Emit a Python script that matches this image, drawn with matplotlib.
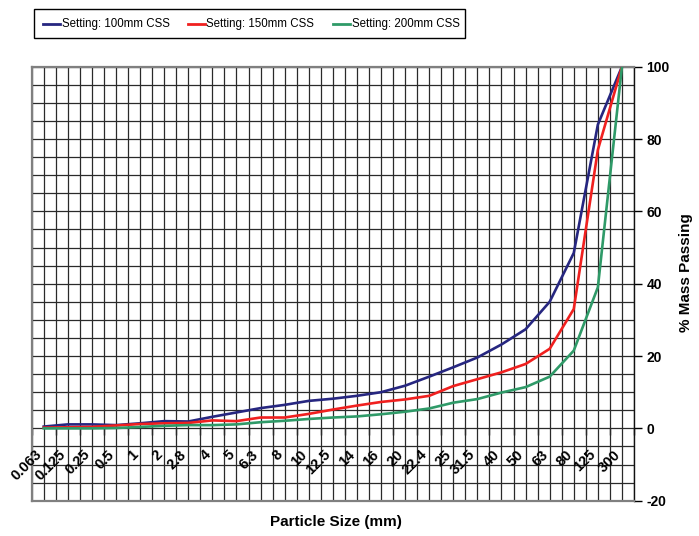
import matplotlib
matplotlib.use("Agg")
import matplotlib.pyplot as plt
from matplotlib.patches import Rectangle
from matplotlib.lines import Line2D
from matplotlib import transforms
import numpy as np

sizes = ["0.063", "0.125", "0.25", "0.5", "1", "2", "2.8", "4", "5", "6.3", "8", "10",
         "12.5", "14", "16", "20", "22.4", "25", "31.5", "40", "50", "63", "80", "125", "300"]

css100 = [0.5, 1.1, 1.1, 0.9, 1.4, 2.0, 1.9, 3.2, 4.4, 5.6, 6.5, 7.6, 8.2, 9.0, 10.0, 11.8,
          14.3, 16.9, 19.6, 23.2, 27.4, 35.0, 48.5, 84.0, 100.0]
css150 = [0.2, 0.3, 0.4, 0.8, 1.2, 1.4, 1.5, 2.2, 2.0, 3.0, 3.0, 4.0, 5.2, 6.3, 7.3, 8.0,
          9.0, 11.7, 13.6, 15.5, 17.8, 22.0, 33.0, 77.0, 100.0]
css200 = [0.0, 0.0, 0.0, 0.1, 0.4, 0.7, 0.9, 0.9, 1.1, 1.7, 2.1, 2.6, 3.0, 3.3, 3.9, 4.6,
          5.5, 7.1, 8.1, 9.9, 11.4, 14.3, 21.5, 39.0, 100.0]

series_names = ["Setting: 100mm CSS", "Setting: 150mm CSS", "Setting: 200mm CSS"]
series_colors = ["#262680", "#F0201F", "#2F9A68"]

yticks = [-20, 0, 20, 40, 60, 80, 100]

W, H = 699, 536
fig = plt.figure(figsize=(W / 100, H / 100), dpi=100)
bold = dict(family=["Liberation Sans", "DejaVu Sans"], fontweight="bold")

L, R, T, B = 31.7, 634.0, 66.7, 500.7
ax = fig.add_axes([L / W, 1 - B / H, (R - L) / W, (B - T) / H])

x = np.arange(len(sizes))
ax.set_xlim(-0.5, len(sizes) - 0.5)
ax.set_ylim(yticks[0], yticks[-1])

# grid
for gx in np.arange(-0.5, len(sizes) - 0.25, 0.5):
    ax.axvline(gx, color="#2a2a2a", lw=0.9, zorder=1)
for gy in np.arange(yticks[0], yticks[-1] + 1, 5):
    ax.axhline(gy, color="#2a2a2a", lw=0.9, zorder=1)

for vals, c in zip([css100, css150, css200], series_colors):
    ax.plot(x, vals, color=c, lw=1.9, zorder=3, solid_joinstyle="round")

for side in ["left", "top", "bottom"]:
    ax.spines[side].set_color("#808080")
    ax.spines[side].set_linewidth(1.6)
ax.spines["right"].set_color("#111111")
ax.spines["right"].set_linewidth(1.0)

ax.set_xticks([])
ax.yaxis.tick_right()
ax.set_yticks(yticks)
ax.set_yticklabels([str(v) for v in yticks], **bold, fontsize=10)
ax.tick_params(axis="y", direction="out", length=6, width=1, pad=3, colors="#000000")
ax.tick_params(axis="y", which="minor", length=0)

# category axis at zero line
sec = ax.secondary_xaxis((0 - yticks[0]) / (yticks[-1] - yticks[0]))
sec.spines["bottom"].set_visible(False)
sec.set_xticks(np.arange(-0.5, len(sizes), 1.0))
sec.set_xticklabels([])
sec.tick_params(axis="x", direction="out", length=5, width=1, colors="#222222")

off = transforms.offset_copy(ax.transData, fig=fig, x=-4, y=-24, units="dots")
for i, lab in enumerate(sizes):
    ax.text(i, 0, lab, transform=off, rotation=45, rotation_mode="anchor",
            ha="right", va="center", fontsize=10.5, **bold)

ax.yaxis.set_label_position("right")
ax.set_ylabel("% Mass Passing", fontsize=11, rotation=90, **bold)
ax.yaxis.set_label_coords((679 - L) / (R - L), (B - 273) / (B - T))

fig.text(336 / W, 1 - 522 / H, "Particle Size (mm)", ha="center", va="center",
         fontsize=11, **bold)

# legend box
fig.add_artist(Rectangle((34 / W, 1 - 38.3 / H), 431 / W, 29 / H, transform=fig.transFigure,
                         facecolor="white", edgecolor="#000000", lw=1.0))
line_x = [(43, 60), (188, 205), (333, 350)]
for (x0, x1), name, c in zip(line_x, series_names, series_colors):
    fig.add_artist(Line2D([x0 / W, x1 / W], [1 - 23.5 / H, 1 - 23.5 / H],
                          transform=fig.transFigure, color=c, lw=2))
    fig.text((x1 + 1.5) / W, 1 - 24 / H, name, ha="left", va="center", fontsize=8.3,
             family=["Liberation Sans", "DejaVu Sans"])

fig.savefig("out.png", dpi=100)
